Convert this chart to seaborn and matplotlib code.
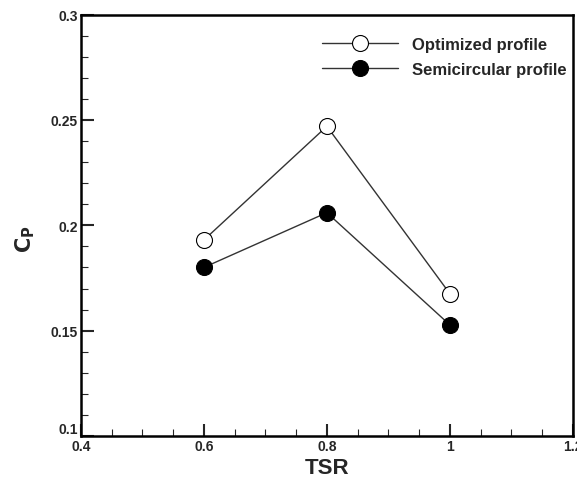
import matplotlib
matplotlib.use("Agg")
import matplotlib.pyplot as plt
import numpy as np
import pandas as pd
import seaborn as sns

# data
tsr = [0.6, 0.8, 1.0]
cp_optimized = [0.193, 0.247, 0.1675]
cp_semicircular = [0.180, 0.206, 0.1527]
labels = ["Optimized profile", "Semicircular profile"]

df = pd.DataFrame({
    "TSR": tsr * 2,
    "Cp": cp_optimized + cp_semicircular,
    "Profile": [labels[0]] * 3 + [labels[1]] * 3,
})

sns.set_style("ticks")
plt.rcParams["font.family"] = ["Liberation Sans", "DejaVu Sans"]
plt.rcParams["font.weight"] = "bold"

fig = plt.figure(figsize=(5.77, 4.81), dpi=100)
ax = fig.add_axes([0.140, 0.0915, 0.853, 0.876])

faces = ["white", "black"]
for lab, fc in zip(labels, faces):
    sub = df[df.Profile == lab]
    sns.lineplot(data=sub, x="TSR", y="Cp", ax=ax, color="#333333", lw=1,
                 marker="o", markersize=11.5, markerfacecolor=fc,
                 markeredgecolor="black", markeredgewidth=0.8, label=lab)

ax.set_xlim(0.4, 1.2)
ax.set_ylim(0.1, 0.3)
ax.set_xticks([0.4, 0.6, 0.8, 1.0, 1.2])
ax.set_xticklabels(["0.4", "0.6", "0.8", "1", "1.2"])
ax.set_yticks([0.1, 0.15, 0.2, 0.25, 0.3])
ax.set_yticklabels(["0.1", "0.15", "0.2", "0.25", "0.3"])
ax.set_xticks(np.arange(0.4, 1.2001, 0.05), minor=True)
ax.set_yticks(np.arange(0.1, 0.3001, 0.01), minor=True)
ax.tick_params(which="major", direction="in", length=9, width=1.5,
               labelsize=10, pad=2, top=False, right=False)
ax.tick_params(which="minor", direction="in", length=5, width=0.8,
               top=False, right=False)
for lbl in ax.get_xticklabels() + ax.get_yticklabels():
    lbl.set_fontweight("bold")
# the lowest y label sits a little higher in the original
ax.get_yticklabels()[0].set_verticalalignment("bottom")
for s in ax.spines.values():
    s.set_linewidth(1.8)
    s.set_color("black")

ax.set_xlabel("TSR", fontsize=16, fontweight="bold", labelpad=3)
ax.set_ylabel(r"$\mathbf{C_P}$", fontsize=15)
ax.yaxis.set_label_coords(-0.088, 0.47)

leg = ax.legend(loc="upper right", bbox_to_anchor=(1.01, 0.975),
                frameon=False, handlelength=4.6, handletextpad=0.8,
                borderaxespad=0.3, labelspacing=0.6,
                prop={"weight": "bold", "size": 12})

fig.savefig("out.png", dpi=100)
